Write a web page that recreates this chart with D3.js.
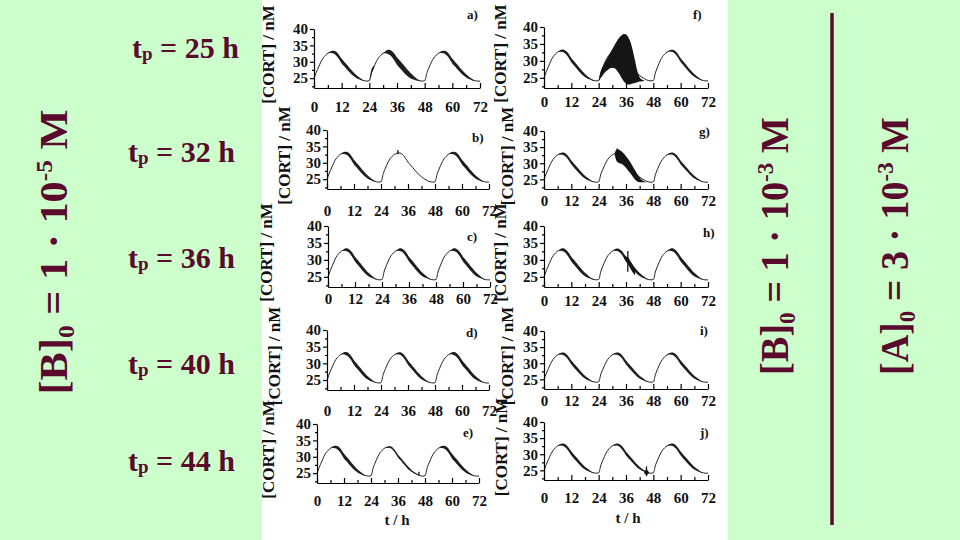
<!DOCTYPE html>
<html lang="en">
<head>
<meta charset="UTF-8">
<title>CORT response to perturbation</title>
<script src="https://d3js.org/d3.v7.min.js"></script>
<style>
  body { margin: 0; background: #ccffcc; }
  svg { display: block; }
  text { font-family: "Liberation Serif", "Times New Roman", serif; font-weight: bold; }
</style>
</head>
<body>
<script>
// time grid (h) and the unperturbed CORT course
const hours = [0,1,2,3,4,5,6,7,8,9,10,11,12,13,14,15,16,17,18,19,20,21,22,23,
  24,25,26,27,28,29,30,31,32,33,34,35,36,37,38,39,40,41,42,43,44,45,46,47,
  48,49,50,51,52,53,54,55,56,57,58,59,60,61,62,63,64,65,66,67,68,69,70,71,72];
const cortMean = [24.9,26.8,28.4,30.0,31.2,32.0,32.6,32.9,33.0,32.8,32.2,31.3,30.2,29.4,28.6,27.8,27.0,26.3,25.7,25.2,24.8,24.4,24.2,24.1,
  24.2,26.7,28.4,30.0,31.2,32.0,32.6,32.9,33.0,32.8,32.2,31.3,30.2,29.4,28.6,27.8,27.0,26.3,25.7,25.2,24.8,24.4,24.2,24.1,
  24.2,26.7,28.4,30.0,31.2,32.0,32.6,32.9,33.0,32.8,32.2,31.3,30.2,29.4,28.6,27.8,27.0,26.3,25.7,25.2,24.8,24.4,24.2,24.1,24.1];
// half width of the ultradian band (nM)
const bandHalf = [0,0,0,0,0,0,0,0.2,0.4,0.5,0.6,0.65,0.7,0.7,0.7,0.7,0.65,0.6,0.5,0.4,0.25,0.1,0,0,
  0,0,0,0,0,0,0,0.2,0.4,0.5,0.6,0.65,0.7,0.7,0.7,0.7,0.65,0.6,0.5,0.4,0.25,0.1,0,0,
  0,0,0,0,0,0,0,0.2,0.4,0.5,0.6,0.65,0.7,0.7,0.7,0.7,0.65,0.6,0.5,0.4,0.25,0.1,0,0,0];

const panelIds = ["a)","b)","c)","d)","e)","f)","g)","h)","i)","j)"];
const tpValues = ["25","32","36","40","44"];
// band strength per day, per panel
const bandScale = [[1,1.6,1],[1,0,1],[1,1,1],[1,0.9,1],[1,0.6,1],
                   [0.9,0,0.8],[0.9,0,0.8],[1,0.9,1],[0.9,0.9,0.9],[0.9,0.8,0.9]];

// perturbation envelopes
const burstT = [
  [24,25,26], null, null, null, null,
  [24,25,26,27,28,29,30,31,32,33,34,35,36,37,38,39,40,41,42,43,44],
  [31,32,33,34,35,36,37,38,39,40,41,42,43,44,45],
  [35,36,37,38,39,40],
  null,
  [44,45,46]
];
const burstHi = [
  [24.3,27.8,28.8], null, null, null, null,
  [24.3,27.0,28.6,29.8,31.0,32.3,33.5,34.7,35.8,36.8,37.5,37.9,37.8,37.0,35.5,33.0,30.0,27.0,25.2,24.5,24.2],
  [33.0,34.3,34.2,33.7,33.0,32.2,31.2,30.2,29.0,27.8,26.6,25.6,24.8,24.4,24.2],
  [31.6,31.0,30.6,29.6,28.5,27.3],
  null,
  [24.6,25.2,24.5]
];
const burstLo = [
  [24.1,26.5,28.2], null, null, null, null,
  [24.1,25.0,26.0,26.8,27.3,27.8,28.0,27.8,27.2,26.2,25.0,24.0,23.3,23.0,23.1,23.3,23.5,23.7,23.9,24.0,24.1],
  [32.8,30.5,30.0,29.8,29.3,28.6,27.7,26.8,25.8,24.9,24.3,24.1,24.1,24.1,24.1],
  [30.6,29.5,28.6,27.4,26.3,25.4],
  null,
  [24.0,23.6,24.0]
];
// single vertical spikes
const spikeT  = [null,[31.5],null,null,[45.3],null,[32.2],[36.8],null,[45]];
const spikeLo = [null,[32.6],null,null,[24.4],null,[31.0],[26.5],null,[23.2]];
const spikeHi = [null,[33.9],null,null,[25.4],null,[34.6],[32.6],null,[26.2]];

const xTicks = [0,12,24,36,48,60,72];
const xMinor = [6,18,30,42,54,66];
const yTicks = [25,30,35,40];
const yMinor = [22.5,27.5,32.5,37.5];

// panel frames: x0, x1, yTop(40), yAxis, tick gap, y-title x, id x, id y
const frames = [
  [314,480,29,88,13,268,467,19],
  [327,489,130,189,16,284,472,142],
  [328,490,226,287,6,266,467,241],
  [327,489,330,390,15,274,466,337],
  [317,479,424,483,12,268,463,437],
  [544,708,27,88,8,500,693,19],
  [544,708,131,189,6,507,699,136],
  [544,708,226,287,8,500,703,237],
  [544,708,331,389,6,507,700,335],
  [544,708,422,480,12,501,700,437]
];

const W = 960, H = 540;
const maroon = "#5a0a2c";

const svg = d3.select("body").append("svg")
  .attr("width", W).attr("height", H);

svg.append("rect").attr("width", W).attr("height", H).attr("fill", "#ccffcc");
svg.append("rect").attr("x", 262).attr("y", 0).attr("width", 466).attr("height", H).attr("fill", "#fff");

panelIds.forEach((id, i) => {
  const f = frames[i];
  const x = d3.scaleLinear().domain([0, 72]).range([f[0], f[1]]);
  const y = d3.scaleLinear().domain([22, 40]).range([f[3], f[2]]);
  const g = svg.append("g");

  const pts = hours.map((t, k) => ({
    t: t,
    m: cortMean[k],
    h: bandHalf[k] * bandScale[i][Math.min(2, Math.floor(t / 24))]
  }));

  g.append("path")
    .attr("d", d3.area().x(d => x(d.t)).y0(d => y(d.m - d.h)).y1(d => y(d.m + d.h))
      .curve(d3.curveMonotoneX)(pts))
    .attr("fill", "#1c1c1c");

  g.append("path")
    .attr("d", d3.line().x(d => x(d.t)).y(d => y(d.m)).curve(d3.curveMonotoneX)(pts))
    .attr("fill", "none").attr("stroke", "#222").attr("stroke-width", 1);

  if (burstT[i]) {
    const b = burstT[i].map((t, k) => ({ t: t, lo: burstLo[i][k], hi: burstHi[i][k] }));
    g.append("path")
      .attr("d", d3.area().x(d => x(d.t)).y0(d => y(d.lo)).y1(d => y(d.hi))
        .curve(d3.curveMonotoneX)(b))
      .attr("fill", "#151515");
  }

  if (spikeT[i]) {
    spikeT[i].forEach((t, k) => {
      g.append("line")
        .attr("x1", x(t)).attr("x2", x(t))
        .attr("y1", y(spikeLo[i][k])).attr("y2", y(spikeHi[i][k]))
        .attr("stroke", "#111").attr("stroke-width", 1.3);
    });
  }

  // x axis
  const xa = g.append("g").attr("transform", `translate(0,${f[3]})`)
    .call(d3.axisBottom(x).tickValues(xTicks).tickSizeInner(-5).tickSizeOuter(0).tickPadding(f[4]));
  g.append("g").attr("transform", `translate(0,${f[3]})`)
    .call(d3.axisBottom(x).tickValues(xMinor).tickSizeInner(-3).tickSizeOuter(0).tickFormat(""))
    .call(s => s.select(".domain").remove());

  // y axis
  const ya = g.append("g").attr("transform", `translate(${f[0]},0)`)
    .call(d3.axisLeft(y).tickValues(yTicks).tickSizeInner(4).tickSizeOuter(0).tickPadding(2));
  g.append("g").attr("transform", `translate(${f[0]},0)`)
    .call(d3.axisLeft(y).tickValues(yMinor).tickSizeInner(2).tickSizeOuter(0).tickFormat(""))
    .call(s => s.select(".domain").remove());

  g.selectAll(".domain, .tick line").attr("stroke", "#000").attr("stroke-width", 1.2);
  xa.selectAll("text").attr("font-size", 15).attr("fill", "#111");
  ya.selectAll("text").attr("font-size", 15).attr("fill", "#111");

  g.append("text")
    .attr("transform", `translate(${f[5]},${(f[2] + f[3]) / 2 - 4}) rotate(-90)`)
    .attr("text-anchor", "middle").attr("dy", "0.35em")
    .attr("font-size", 17).attr("fill", "#111")
    .text("[CORT] / nM");

  g.append("text")
    .attr("x", f[6]).attr("y", f[7])
    .attr("font-size", 13).attr("fill", "#111")
    .text(id);
});

// time axis titles
svg.append("text").attr("x", 397).attr("y", 525).attr("text-anchor", "middle")
  .attr("font-size", 15).attr("fill", "#111").text("t / h");
svg.append("text").attr("x", 628).attr("y", 523).attr("text-anchor", "middle")
  .attr("font-size", 15).attr("fill", "#111").text("t / h");

// row labels
const rowBase = [58, 162, 268, 374, 471];
const rowX = [132, 128, 128, 128, 128];
tpValues.forEach((v, r) => {
  const t = svg.append("text").attr("x", rowX[r]).attr("y", rowBase[r])
    .attr("font-size", 30).attr("fill", maroon);
  t.append("tspan").text("t");
  t.append("tspan").attr("font-size", 19).attr("dy", 2).text("p");
  t.append("tspan").attr("dy", -2).text(" = " + v + " h");
});

// rotated concentration labels
function concLabel(cx, cy, letter, mant, exp, len) {
  const t = svg.append("text")
    .attr("transform", `translate(${cx},${cy}) rotate(-90)`)
    .attr("text-anchor", "middle")
    .attr("font-size", 40).attr("fill", maroon)
    .attr("textLength", len).attr("lengthAdjust", "spacingAndGlyphs");
  t.append("tspan").text("[" + letter + "]");
  t.append("tspan").attr("font-size", 24).attr("dy", 7).text("0");
  t.append("tspan").attr("dy", -7).text(" = " + mant + " \u00b7 10");
  t.append("tspan").attr("font-size", 24).attr("dy", -15).text("-" + exp);
  t.append("tspan").attr("dy", 15).text(" M");
}
concLabel(67, 252, "B", "1", "5", 285);
concLabel(788, 246, "B", "1", "3", 258);
concLabel(908, 246, "A", "3", "3", 258);

svg.append("line").attr("x1", 832).attr("x2", 832).attr("y1", 13).attr("y2", 525)
  .attr("stroke", maroon).attr("stroke-width", 3.5);
</script>
</body>
</html>
